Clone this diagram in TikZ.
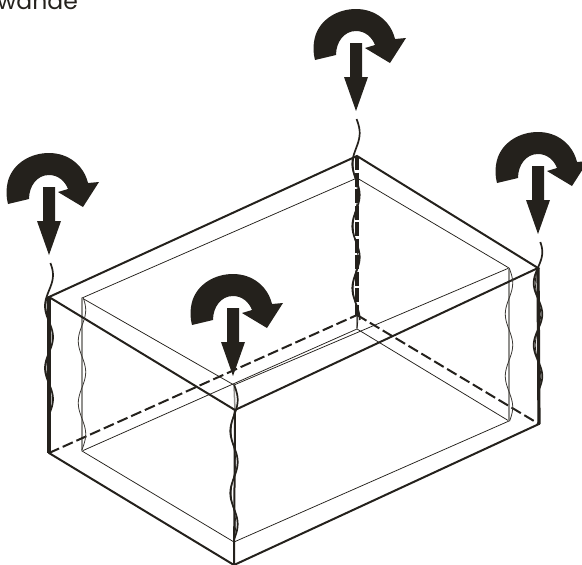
\documentclass[tikz,border=0pt]{standalone}
\usepackage{fontspec}
\setmainfont{Poppins}
\definecolor{ink}{HTML}{24211C}
\newcommand{\wavestrand}[6]{% style, x, y0, y1, amp, right peak y
  \draw[#1,domain=#3:#4,samples=70,smooth,variable=\t] plot ({#2+#5*cos((\t-#6)*5.8)},\t);}
\tikzset{
  outer/.style={draw=ink,line width=2pt,line cap=round,line join=miter},
  heavy/.style={draw=ink,line width=3.2pt},
  hidden/.style={draw=ink,line width=2pt,dash pattern=on 11pt off 4pt},
  hiddenheavy/.style={draw=ink,line width=3.2pt,dash pattern=on 14pt off 2.5pt},
  inner/.style={draw=ink,line width=.75pt},
  innergray/.style={draw=ink!50,line width=1.5pt},
  strand/.style={draw=ink,line width=1.7pt},
  thinstrand/.style={draw=ink,line width=.8pt},
  graystrand/.style={draw=ink!90,line width=.8pt},
  turn/.pic={
    \fill[ink] (-41,51) .. controls (-43,44) and (-43,36) .. (-41,28)
      .. controls (-36,10) and (-18,0) .. (0,0)
      .. controls (20,0) and (35,13) .. (39,30) -- (50,29) -- (34,54) -- (9,39) -- (19,36)
      .. controls (16,28) and (9,22) .. (0,22)
      .. controls (-12,22) and (-20,33) .. (-20,46) -- cycle;
    \fill[ink] (-6,34) -- (6,34) -- (6,68) -- (12,68) -- (0,102) -- (-12,68) -- (-6,68) -- cycle;
  }
}
\begin{document}
\begin{tikzpicture}[x=1pt,y=-1pt]
\path[use as bounding box,clip] (0,0) rectangle (582,565);
\coordinate (A) at (49,297); \coordinate (B) at (357,156); \coordinate (C) at (538,268); \coordinate (D) at (235,410);
\coordinate (E) at (49,453); \coordinate (F) at (234,565); \coordinate (G) at (539,424); \coordinate (H) at (357,315);
\coordinate (a) at (82,298); \coordinate (b) at (357,178); \coordinate (c) at (509,268); \coordinate (d) at (234,385);
\coordinate (e) at (82,451); \coordinate (f) at (234,542); \coordinate (g) at (509,421); \coordinate (h) at (357,329);
\node[anchor=base west,inner sep=0pt,text=ink,font=\fontsize{23.5}{23.5}\selectfont] (title) at (-3,9) {wande};
% inner box
\draw[inner] (c) -- (b) -- (a) -- (d) -- (c);
\draw[inner] (e) -- (f) -- (g) -- (h) -- cycle;
\draw[innergray] (a) -- (e);
\draw[innergray] (c) -- (g);
\draw[innergray] (d) -- (D);
\draw[innergray] (f) -- (F);
\draw[innergray] (H) -- (h);
% hidden edges
\draw[hidden] (E) -- (H);
\draw[hidden] (H) -- (G);
\draw[hiddenheavy] (B) -- (H);
% outer box
\draw[outer] (A) -- (B) -- (C) -- (D) -- cycle;
\draw[outer] (A) -- (E) -- (F) -- (G) -- (C);
\draw[heavy] (A) -- (E);
\draw[heavy] (C) -- (G);
\draw[outer] (D) -- (F);
% wavy strands
\wavestrand{strand}{49}{263}{413}{4}{275}
\wavestrand{thinstrand}{48.5}{297}{413}{2.5}{275}
\wavestrand{strand}{356}{119}{320}{3.7}{133}
\wavestrand{thinstrand}{355.5}{156}{328}{2.3}{133}
\wavestrand{strand}{538}{242}{392}{4.3}{252}
\wavestrand{thinstrand}{538}{268}{392}{2.7}{252}
\wavestrand{strand}{234}{385}{540}{3.7}{400}
\wavestrand{thinstrand}{233.5}{410}{540}{2.3}{400}
\wavestrand{graystrand}{82}{298}{450}{3.7}{310}
\wavestrand{graystrand}{509}{268}{421}{3.7}{283}
% arrows
\pic at (49,153) {turn};
\pic at (356,9) {turn};
\pic at (538,132) {turn};
\pic at (233,274) {turn};
\end{tikzpicture}
\end{document}
